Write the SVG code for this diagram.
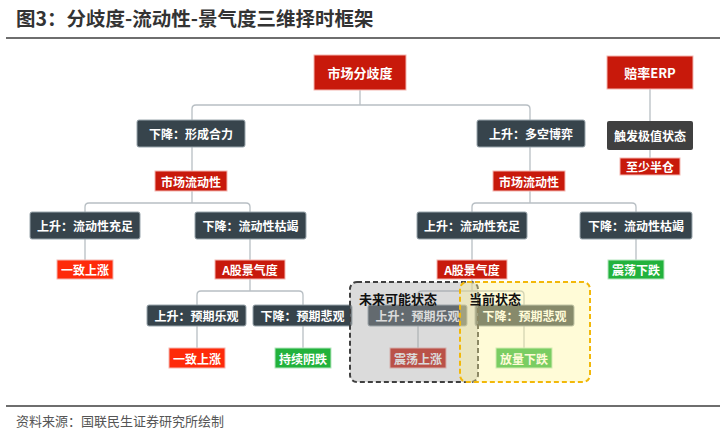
<svg xmlns="http://www.w3.org/2000/svg" width="720" height="432" viewBox="0 0 720 432">
<style>
text{font-family:"Noto Sans CJK SC","Liberation Sans",sans-serif;font-weight:bold;text-anchor:middle;dominant-baseline:central}
.w{fill:#fff;font-size:12px}
.r{fill:#c8190b;stroke:#f4b6b0;stroke-width:1}
.rb{fill:#fe2a0a;stroke:#f4b6b0;stroke-width:1}
.g{fill:#22b23c;stroke:#b6e6bf;stroke-width:1}
.d{fill:#37444c;stroke:#9aa6ad;stroke-width:1}
.c path{fill:none;stroke:#b8bfc4;stroke-width:1.3}
</style>
<rect width="720" height="432" fill="#fff"/>
<text x="16" y="17" style="text-anchor:start;font-size:19.5px;fill:#333">图3：分歧度-流动性-景气度三维择时框架</text>
<line x1="6" y1="38" x2="720" y2="38" stroke="#6e6e6e" stroke-width="2"/>
<g class="c" id="connectors">
<path d="M360 90V105M192 120V109Q192 105 196 105H526Q530 105 530 109V120"/>
<path d="M192 147V171M192 191V203M85 212V207Q85 203 89 203H246Q250 203 250 207V212"/>
<path d="M530 147V171M530 191V203M472 212V207Q472 203 476 203H632Q636 203 636 207V212"/>
<path d="M85 239V260M636 239V260M250 239V260M472 239V260"/>
<path d="M250 279V291M197 305V295Q197 291 201 291H299Q303 291 303 295V305"/>
<path d="M472 279V291M418 305V295Q418 291 422 291H520Q524 291 524 295V305"/>
<path d="M197 325V348M303 325V348M418 325V348M524 325V348"/>
<path d="M650 89V121M650 150V158" stroke="#555"/>
</g>
<g id="n1"><rect class="r" x="314" y="55" width="92" height="35"/><text class="w" x="360" y="72.5" style="font-size:13px">市场分歧度</text></g>
<g id="n2"><rect class="r" x="607" y="56" width="86" height="33"/><text class="w" x="650" y="72.5" style="font-size:13px">赔率ERP</text></g>
<g id="n3"><rect class="d" x="137" y="120" width="108" height="27" rx="2"/><text class="w" x="191" y="133.5">下降：形成合力</text></g>
<g id="n4"><rect class="d" x="477" y="120" width="108" height="27" rx="2"/><text class="w" x="531" y="133.5">上升：多空博弈</text></g>
<g id="n5"><rect x="607" y="121" width="86" height="29" rx="2" fill="#404040"/><text class="w" x="650" y="135.5">触发极值状态</text></g>
<g id="n6"><rect class="r" x="620" y="158" width="60" height="17"/><text class="w" x="650" y="166.5">至少半仓</text></g>
<g id="n7"><rect class="r" x="155" y="171" width="72" height="20"/><text class="w" x="191" y="181">市场流动性</text></g>
<g id="n8"><rect class="r" x="493" y="171" width="72" height="20"/><text class="w" x="529" y="181">市场流动性</text></g>
<g id="n9"><rect class="d" x="30" y="212" width="110" height="27" rx="2"/><text class="w" x="85" y="225.5">上升：流动性充足</text></g>
<g id="n10"><rect class="d" x="195" y="212" width="111" height="27" rx="2"/><text class="w" x="250.5" y="225.5">下降：流动性枯竭</text></g>
<g id="n11"><rect class="d" x="417" y="212" width="110" height="27" rx="2"/><text class="w" x="472" y="225.5">上升：流动性充足</text></g>
<g id="n12"><rect class="d" x="580" y="212" width="112" height="27" rx="2"/><text class="w" x="636" y="225.5">下降：流动性枯竭</text></g>
<g id="n13"><rect class="rb" x="57" y="260" width="56" height="19"/><text class="w" x="85" y="269.5">一致上涨</text></g>
<g id="n14"><rect class="r" x="215" y="260" width="70" height="19"/><text class="w" x="250" y="269.5">A股景气度</text></g>
<g id="n15"><rect class="r" x="437" y="260" width="70" height="19"/><text class="w" x="472" y="269.5">A股景气度</text></g>
<g id="n16"><rect class="g" x="608" y="260" width="56" height="19"/><text class="w" x="636" y="269.5">震荡下跌</text></g>
<g id="n17"><rect class="d" x="147" y="305" width="99" height="21" rx="2"/><text class="w" x="196.5" y="315.5">上升：预期乐观</text></g>
<g id="n18"><rect class="d" x="253" y="305" width="99" height="21" rx="2"/><text class="w" x="302.5" y="315.5">下降：预期悲观</text></g>
<g id="n19"><rect class="d" x="368" y="305" width="99" height="21" rx="2"/><text class="w" x="417.5" y="315.5">上升：预期乐观</text></g>
<g id="n20"><rect class="d" x="475" y="305" width="99" height="21" rx="2"/><text class="w" x="524.5" y="315.5">下降：预期悲观</text></g>
<g id="n21"><rect class="rb" x="169" y="348" width="56" height="20"/><text class="w" x="197" y="358">一致上涨</text></g>
<g id="n22"><rect class="g" x="275" y="348" width="56" height="20"/><text class="w" x="303" y="358">持续阴跌</text></g>
<g id="n23"><rect class="r" x="390" y="348" width="56" height="20"/><text class="w" x="418" y="358">震荡上涨</text></g>
<g id="n24"><rect class="g" x="496" y="348" width="56" height="20"/><text class="w" x="524" y="358">放量下跌</text></g>
<g id="future"><rect x="350" y="282" width="128" height="100" rx="7" fill="#a6a6a6" fill-opacity="0.4" stroke="#404040" stroke-width="2" stroke-dasharray="5,3"/><text x="398" y="298" style="font-size:13px;fill:#111">未来可能状态</text></g>
<g id="current"><rect x="460" y="282" width="130" height="100" rx="7" fill="#fff59a" fill-opacity="0.4" stroke="#f2b80a" stroke-width="2" stroke-dasharray="5,3"/><text x="495" y="298" style="font-size:13px;fill:#111">当前状态</text></g>
<line x1="6" y1="406" x2="720" y2="406" stroke="#6e6e6e" stroke-width="2"/>
<text x="16" y="420" style="text-anchor:start;font-size:13px;font-weight:normal;fill:#555">资料来源：国联民生证券研究所绘制</text>
</svg>
